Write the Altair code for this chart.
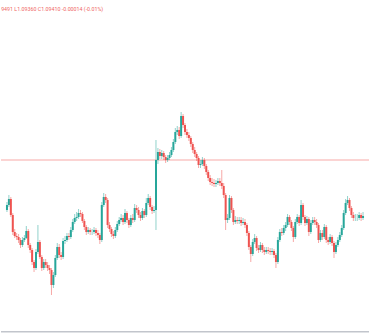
import altair as alt
import pandas as pd

closes = [
    1.09465, 1.09495, 1.09415, 1.09330, 1.09310, 1.09305, 1.09290, 1.09265, 1.09290, 1.09300,
    1.09335, 1.09265, 1.09240, 1.09180, 1.09150, 1.09230, 1.09280, 1.09205, 1.09150, 1.09180,
    1.09165, 1.09150, 1.09140, 1.09065, 1.09115, 1.09200, 1.09255, 1.09215, 1.09205, 1.09285,
    1.09290, 1.09310, 1.09305, 1.09340, 1.09380, 1.09400, 1.09405, 1.09425, 1.09420, 1.09385,
    1.09355, 1.09330, 1.09340, 1.09330, 1.09330, 1.09340, 1.09325, 1.09315, 1.09290, 1.09465,
    1.09505, 1.09490, 1.09365, 1.09345, 1.09320, 1.09310, 1.09340, 1.09370, 1.09390, 1.09400,
    1.09380, 1.09425, 1.09390, 1.09365, 1.09400, 1.09390, 1.09450, 1.09440, 1.09415, 1.09400,
    1.09435, 1.09415, 1.09475, 1.09500, 1.09455, 1.09435, 1.09440, 1.09690, 1.09730, 1.09710,
    1.09725, 1.09705, 1.09690, 1.09700, 1.09715, 1.09740, 1.09780, 1.09830, 1.09840, 1.09810,
    1.09910, 1.09865, 1.09830, 1.09815, 1.09800, 1.09770, 1.09740, 1.09720, 1.09700, 1.09665,
    1.09670, 1.09690, 1.09660, 1.09630, 1.09600, 1.09580, 1.09575, 1.09570, 1.09575, 1.09585,
    1.09575, 1.09560, 1.09515, 1.09390, 1.09400, 1.09500, 1.09440, 1.09380, 1.09390, 1.09385,
    1.09390, 1.09375, 1.09380, 1.09365, 1.09325, 1.09255, 1.09220, 1.09280, 1.09300, 1.09250,
    1.09240, 1.09265, 1.09240, 1.09230, 1.09240, 1.09235, 1.09230, 1.09235, 1.09215, 1.09180,
    1.09290, 1.09330, 1.09325, 1.09350, 1.09365, 1.09405, 1.09380, 1.09350, 1.09305, 1.09380,
    1.09405, 1.09375, 1.09465, 1.09405, 1.09375, 1.09395, 1.09330, 1.09375, 1.09390, 1.09380,
    1.09365, 1.09290, 1.09325, 1.09305, 1.09355, 1.09290, 1.09280, 1.09305, 1.09275, 1.09230,
    1.09265, 1.09290, 1.09315, 1.09350, 1.09425, 1.09475, 1.09490, 1.09450, 1.09415, 1.09400,
    1.09400, 1.09400, 1.09415, 1.09400, 1.09410,
]

opens = [
    1.09440, 1.09465, 1.09495, 1.09415, 1.09330, 1.09310, 1.09305, 1.09290, 1.09265, 1.09290,
    1.09300, 1.09335, 1.09265, 1.09240, 1.09180, 1.09150, 1.09230, 1.09280, 1.09205, 1.09150,
    1.09180, 1.09165, 1.09150, 1.09140, 1.09065, 1.09115, 1.09200, 1.09255, 1.09215, 1.09205,
    1.09285, 1.09290, 1.09310, 1.09305, 1.09340, 1.09380, 1.09400, 1.09405, 1.09425, 1.09420,
    1.09385, 1.09355, 1.09330, 1.09340, 1.09330, 1.09330, 1.09340, 1.09325, 1.09315, 1.09290,
    1.09465, 1.09505, 1.09490, 1.09365, 1.09345, 1.09320, 1.09310, 1.09340, 1.09370, 1.09390,
    1.09400, 1.09380, 1.09425, 1.09390, 1.09365, 1.09400, 1.09390, 1.09450, 1.09440, 1.09415,
    1.09400, 1.09435, 1.09415, 1.09475, 1.09500, 1.09455, 1.09435, 1.09440, 1.09690, 1.09730,
    1.09710, 1.09725, 1.09705, 1.09690, 1.09700, 1.09715, 1.09740, 1.09780, 1.09830, 1.09840,
    1.09810, 1.09910, 1.09865, 1.09830, 1.09815, 1.09800, 1.09770, 1.09740, 1.09720, 1.09700,
    1.09665, 1.09670, 1.09690, 1.09660, 1.09630, 1.09600, 1.09580, 1.09575, 1.09570, 1.09575,
    1.09585, 1.09575, 1.09560, 1.09515, 1.09390, 1.09400, 1.09500, 1.09440, 1.09380, 1.09390,
    1.09385, 1.09390, 1.09375, 1.09380, 1.09365, 1.09325, 1.09255, 1.09220, 1.09280, 1.09300,
    1.09250, 1.09240, 1.09265, 1.09240, 1.09230, 1.09240, 1.09235, 1.09230, 1.09235, 1.09215,
    1.09180, 1.09290, 1.09330, 1.09325, 1.09350, 1.09365, 1.09405, 1.09380, 1.09350, 1.09305,
    1.09380, 1.09405, 1.09375, 1.09465, 1.09405, 1.09375, 1.09395, 1.09330, 1.09375, 1.09390,
    1.09380, 1.09365, 1.09290, 1.09325, 1.09305, 1.09355, 1.09290, 1.09280, 1.09305, 1.09275,
    1.09230, 1.09265, 1.09290, 1.09315, 1.09350, 1.09425, 1.09475, 1.09490, 1.09450, 1.09415,
    1.09400, 1.09400, 1.09400, 1.09415, 1.09400,
]

highs = [
    1.09480, 1.09515, 1.09505, 1.09425, 1.09345, 1.09325, 1.09320, 1.09300, 1.09305, 1.09315,
    1.09360, 1.09345, 1.09275, 1.09250, 1.09190, 1.09245, 1.09365, 1.09290, 1.09215, 1.09195,
    1.09195, 1.09180, 1.09165, 1.09150, 1.09130, 1.09215, 1.09275, 1.09270, 1.09230, 1.09300,
    1.09310, 1.09325, 1.09325, 1.09355, 1.09395, 1.09420, 1.09430, 1.09445, 1.09440, 1.09430,
    1.09395, 1.09365, 1.09355, 1.09350, 1.09345, 1.09355, 1.09350, 1.09340, 1.09325, 1.09480,
    1.09525, 1.09520, 1.09500, 1.09380, 1.09355, 1.09335, 1.09355, 1.09385, 1.09405, 1.09420,
    1.09415, 1.09445, 1.09435, 1.09400, 1.09415, 1.09420, 1.09470, 1.09465, 1.09455, 1.09430,
    1.09450, 1.09445, 1.09500, 1.09520, 1.09510, 1.09465, 1.09460, 1.09790, 1.09750, 1.09745,
    1.09740, 1.09735, 1.09715, 1.09715, 1.09730, 1.09755, 1.09795, 1.09850, 1.09860, 1.09855,
    1.09930, 1.09920, 1.09875, 1.09845, 1.09830, 1.09810, 1.09780, 1.09755, 1.09730, 1.09710,
    1.09690, 1.09705, 1.09700, 1.09670, 1.09640, 1.09615, 1.09600, 1.09595, 1.09590, 1.09600,
    1.09600, 1.09640, 1.09575, 1.09525, 1.09420, 1.09515, 1.09510, 1.09450, 1.09410, 1.09405,
    1.09405, 1.09405, 1.09400, 1.09395, 1.09375, 1.09335, 1.09265, 1.09295, 1.09320, 1.09310,
    1.09265, 1.09280, 1.09275, 1.09255, 1.09255, 1.09255, 1.09250, 1.09250, 1.09245, 1.09225,
    1.09305, 1.09345, 1.09350, 1.09365, 1.09380, 1.09420, 1.09415, 1.09390, 1.09360, 1.09395,
    1.09420, 1.09415, 1.09490, 1.09475, 1.09415, 1.09410, 1.09405, 1.09390, 1.09405, 1.09405,
    1.09395, 1.09375, 1.09340, 1.09340, 1.09370, 1.09365, 1.09305, 1.09320, 1.09315, 1.09285,
    1.09280, 1.09305, 1.09330, 1.09365, 1.09440, 1.09495, 1.09510, 1.09500, 1.09460, 1.09430,
    1.09420, 1.09420, 1.09430, 1.09425, 1.09430,
]

lows = [
    1.09430, 1.09455, 1.09405, 1.09315, 1.09300, 1.09290, 1.09275, 1.09250, 1.09255, 1.09280,
    1.09295, 1.09250, 1.09225, 1.09165, 1.09130, 1.09140, 1.09220, 1.09195, 1.09135, 1.09140,
    1.09150, 1.09135, 1.09120, 1.09015, 1.09050, 1.09105, 1.09190, 1.09200, 1.09190, 1.09195,
    1.09270, 1.09280, 1.09290, 1.09295, 1.09330, 1.09370, 1.09385, 1.09395, 1.09405, 1.09375,
    1.09340, 1.09315, 1.09320, 1.09315, 1.09315, 1.09320, 1.09310, 1.09300, 1.09270, 1.09280,
    1.09455, 1.09475, 1.09350, 1.09330, 1.09305, 1.09295, 1.09300, 1.09330, 1.09360, 1.09380,
    1.09365, 1.09370, 1.09375, 1.09350, 1.09355, 1.09375, 1.09380, 1.09425, 1.09400, 1.09385,
    1.09390, 1.09400, 1.09405, 1.09465, 1.09440, 1.09420, 1.09425, 1.09340, 1.09670, 1.09695,
    1.09695, 1.09690, 1.09675, 1.09680, 1.09690, 1.09705, 1.09730, 1.09770, 1.09815, 1.09795,
    1.09800, 1.09850, 1.09815, 1.09800, 1.09785, 1.09755, 1.09725, 1.09705, 1.09685, 1.09650,
    1.09650, 1.09660, 1.09645, 1.09615, 1.09585, 1.09565, 1.09560, 1.09555, 1.09555, 1.09565,
    1.09560, 1.09545, 1.09500, 1.09340, 1.09375, 1.09390, 1.09425, 1.09365, 1.09370, 1.09370,
    1.09370, 1.09360, 1.09365, 1.09350, 1.09310, 1.09240, 1.09180, 1.09210, 1.09270, 1.09235,
    1.09225, 1.09230, 1.09225, 1.09215, 1.09220, 1.09220, 1.09215, 1.09215, 1.09200, 1.09150,
    1.09170, 1.09280, 1.09310, 1.09315, 1.09335, 1.09355, 1.09365, 1.09335, 1.09280, 1.09295,
    1.09370, 1.09360, 1.09365, 1.09390, 1.09360, 1.09365, 1.09310, 1.09320, 1.09365, 1.09365,
    1.09350, 1.09275, 1.09280, 1.09290, 1.09295, 1.09275, 1.09265, 1.09270, 1.09260, 1.09200,
    1.09220, 1.09255, 1.09280, 1.09305, 1.09340, 1.09415, 1.09465, 1.09435, 1.09400, 1.09385,
    1.09385, 1.09385, 1.09390, 1.09385, 1.09390,
]

level_line = [1.09690]
legend_text = ["H1.09491 L1.09360 C1.09410 -0.00014 (-0.01%)"]

n = len(closes)
df = pd.DataFrame({
    "idx": list(range(n)),
    "open": opens[:n],
    "high": highs[:n],
    "low": lows[:n],
    "close": closes,
})

UP = "#26a69a"
DOWN = "#ef5350"

xscale = alt.Scale(domain=[-0.5, n - 0.5], nice=False, zero=False)
yscale = alt.Scale(domain=[1.08825, 1.10490], nice=False, zero=False)
color = alt.condition("datum.close >= datum.open", alt.value(UP), alt.value(DOWN))

base = alt.Chart(df).encode(x=alt.X("idx:Q", scale=xscale, axis=None))

wicks = base.mark_rule(strokeWidth=1, opacity=0.5).encode(
    y=alt.Y("low:Q", scale=yscale, axis=None),
    y2="high:Q",
    color=color,
)

bodies = base.mark_bar(size=2).encode(
    y=alt.Y("open:Q", scale=yscale, axis=None),
    y2="close:Q",
    color=color,
)

hline = alt.Chart(pd.DataFrame({"level": level_line})).mark_rule(
    color=DOWN, opacity=0.5, strokeWidth=1
).encode(y=alt.Y("level:Q", scale=yscale, axis=None))

bottom = alt.Chart(pd.DataFrame({"level": level_line})).mark_rule(
    color="#c2c5cc", strokeWidth=1.5
).encode(y=alt.value(331.8))

label = alt.Chart(pd.DataFrame({"t": legend_text})).mark_text(
    align="left", baseline="middle", fontSize=5.3, color=DOWN, opacity=0.9,
    font="Roboto", clip=True
).encode(text="t:N", x=alt.value(-11), y=alt.value(8.5))

chart = alt.layer(hline, wicks, bodies, bottom, label).properties(
    width=370, height=333, padding=0, background="white",
    autosize=alt.AutoSizeParams(type="fit", contains="padding"),
).configure_view(stroke=None)

chart.save("out.html", embed_options={"renderer": "svg", "actions": False})
